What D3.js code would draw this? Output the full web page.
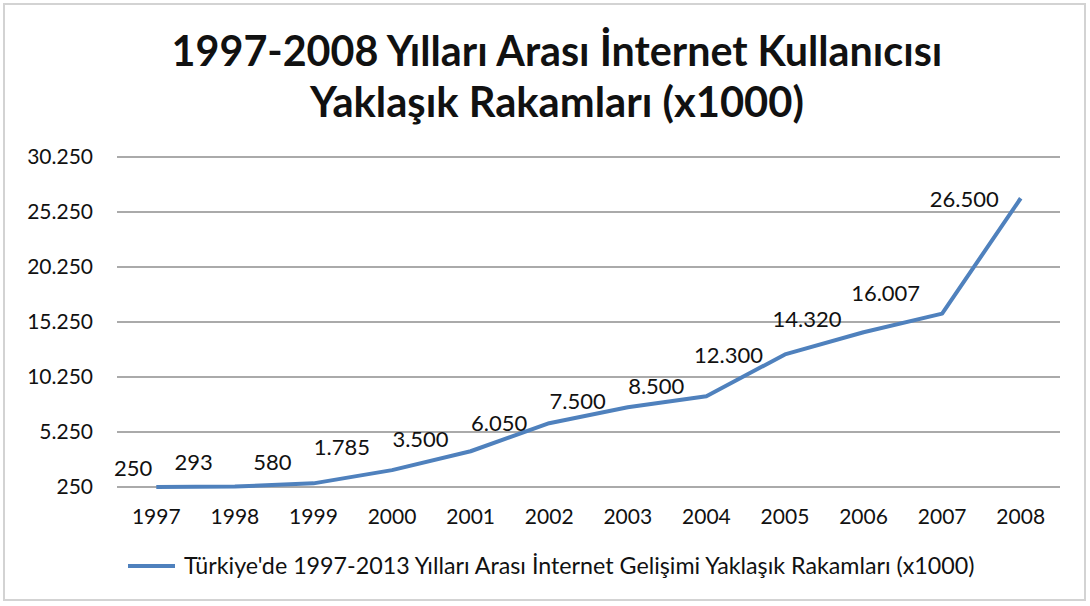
<!DOCTYPE html>
<html>
<head>
<meta charset="utf-8">
<script src="https://cdn.jsdelivr.net/npm/d3@7"></script>
<style>
  body { margin: 0; background: #fff; }
  text { font-family: Lato, "Open Sans", sans-serif; fill: #111; }
</style>
</head>
<body>
<script>
// data
const years = ['1997', '1998', '1999', '2000', '2001', '2002',
               '2003', '2004', '2005', '2006', '2007', '2008'];
const users = [250, 293, 580, 1785, 3500, 6050,
               7500, 8500, 12300, 14320, 16007, 26500];
const yTicks = [250, 5250, 10250, 15250, 20250, 25250, 30250];
const titleLines = ['1997-2008 Yılları Arası İnternet Kullanıcısı',
                    'Yaklaşık Rakamları (x1000)'];
const seriesName = "Türkiye'de 1997-2013 Yılları Arası İnternet Gelişimi Yaklaşık Rakamları (x1000)";

// label nudges (the labels were moved by hand in the original)
const labelDy = [-19, -24, -21, -23, -12, 0, -6, -10, 1, -13, -20, 1];

const W = 1090, H = 606;
const trFormat = d3.formatLocale({decimal: ',', thousands: '.', grouping: [3], currency: ['', '']}).format(',d');

var svg = d3.select('body')
  .append('svg')
  .attr('width', W)
  .attr('height', H);

svg.append('rect')
  .attr('x', 4).attr('y', 4)
  .attr('width', 1081).attr('height', 596)
  .attr('fill', '#fff')
  .attr('stroke', '#d3d3d3')
  .attr('stroke-width', 2);

// title, fitted to the width it has in the picture
var titleWidths = [771, 494];
var titleY = [66, 117];
titleLines.forEach(function(t, i) {
  var el = svg.append('text')
    .attr('x', 557)
    .attr('y', titleY[i])
    .attr('text-anchor', 'middle')
    .style('font-weight', 'bold')
    .style('font-size', '34px')
    .text(t);
  var len = el.node().getComputedTextLength();
  el.style('font-size', (34 * titleWidths[i] / len) + 'px');
});

var x = d3.scaleBand()
  .domain(years)
  .range([117, 1060]);

var y = d3.scaleLinear()
  .domain([250, 30250])
  .range([487, 157]);

// gridlines
svg.append('g')
  .selectAll('line')
  .data(yTicks)
  .join('line')
  .attr('x1', 117)
  .attr('x2', 1060)
  .attr('y1', d => y(d))
  .attr('y2', d => y(d))
  .attr('stroke', '#8e8e8e')
  .attr('stroke-width', 1.3);

// y axis
var yAxis = svg.append('g')
  .attr('transform', 'translate(117,0)')
  .call(d3.axisLeft(y).tickValues(yTicks).tickFormat(trFormat).tickSize(0).tickPadding(24));
yAxis.select('.domain').remove();
yAxis.selectAll('text')
  .style('font-size', '21px')
  .attr('fill', '#111');

// x axis
var xAxis = svg.append('g')
  .attr('transform', 'translate(0,487)')
  .call(d3.axisBottom(x).tickSize(0).tickPadding(22));
xAxis.select('.domain').remove();
xAxis.selectAll('text')
  .style('font-size', '21px')
  .attr('fill', '#111');

var cx = (d, i) => x(years[i]) + x.bandwidth() / 2;

svg.append('path')
  .datum(users)
  .attr('fill', 'none')
  .attr('stroke', '#4f81bd')
  .attr('stroke-width', 4)
  .attr('stroke-linejoin', 'round')
  .attr('d', d3.line().x(cx).y(d => y(d)));

svg.append('g')
  .selectAll('text')
  .data(users)
  .join('text')
  .attr('x', (d, i) => cx(d, i) - (i == 0 ? 4 : 22))
  .attr('y', (d, i) => y(d) + labelDy[i])
  .attr('dy', '0.35em')
  .attr('text-anchor', 'end')
  .style('font-size', '22px')
  .text(d => trFormat(d));

// legend
svg.append('line')
  .attr('x1', 128).attr('x2', 175)
  .attr('y1', 566).attr('y2', 566)
  .attr('stroke', '#4f81bd')
  .attr('stroke-width', 4);

var leg = svg.append('text')
  .attr('x', 184)
  .attr('y', 566)
  .attr('dy', '0.35em')
  .style('font-size', '17px')
  .text(seriesName);
var legLen = leg.node().getComputedTextLength();
leg.style('font-size', (17 * 791 / legLen) + 'px');
</script>
</body>
</html>
